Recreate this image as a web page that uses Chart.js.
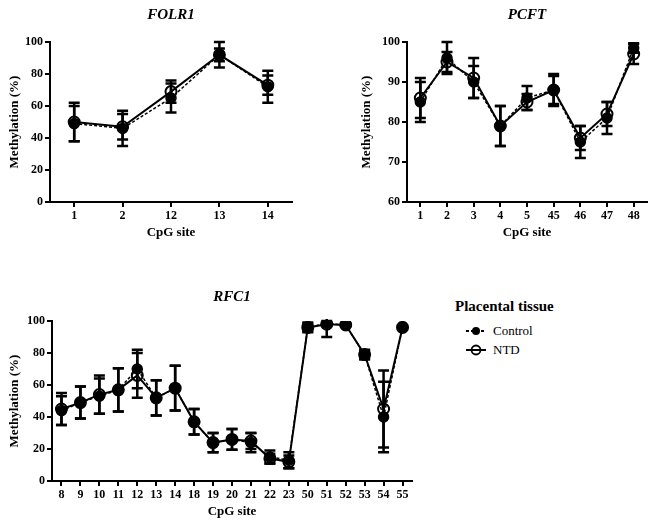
<!DOCTYPE html>
<html lang="en">
<head>
    <meta charset="UTF-8">
    <title>Placental tissue methylation</title>
    <script src="https://cdn.jsdelivr.net/npm/chart.js"></script>
    <style>
        body { margin: 0; background: #fff; width: 658px; height: 528px; position: relative; overflow: hidden;
               font-family: 'Liberation Serif', 'Times New Roman', serif; color: #000; }
        canvas { position: absolute; }
        .abs { position: absolute; white-space: nowrap; line-height: 1; }
        .lt { font-weight: bold; font-size: 15px; }
        .li { font-size: 13px; }
    </style>
</head>
<body>
    <canvas id="folr" width="300" height="250" style="left:0;top:0"></canvas>
    <canvas id="pcft" width="308" height="250" style="left:350px;top:0"></canvas>
    <canvas id="rfc" width="420" height="266" style="left:0;top:262px"></canvas>

    <div class="abs lt" style="left:455px;top:299px">Placental tissue</div>
    <svg class="abs" style="left:465px;top:325px" width="22" height="12">
        <line x1="1" y1="6" x2="21" y2="6" stroke="#000" stroke-width="2" stroke-dasharray="3,2"/>
        <circle cx="11" cy="6" r="4" fill="#000"/>
    </svg>
    <div class="abs li" style="left:493px;top:324px">Control</div>
    <svg class="abs" style="left:465px;top:344px" width="22" height="12">
        <line x1="1" y1="6" x2="21" y2="6" stroke="#000" stroke-width="2"/>
        <circle cx="11" cy="6" r="4.5" fill="none" stroke="#000" stroke-width="1.8"/>
    </svg>
    <div class="abs li" style="left:493px;top:343px">NTD</div>

    <script>
        // FOLR1
        const folrSites = ['1', '2', '12', '13', '14'];
        const folrControl = [49, 46, 65, 92, 72];
        const folrControlErr = [11, 11, 9, 8, 10];
        const folrNTD = [50, 47, 69, 92, 73];
        const folrNTDErr = [12, 8, 7, 4, 6];

        // PCFT
        const pcftSites = ['1', '2', '3', '4', '5', '45', '46', '47', '48'];
        const pcftControl = [85, 96, 90, 79, 86, 88, 75, 81, 98.5];
        const pcftControlErr = [5, 4, 4, 5, 3, 4, 4, 4, 1.2];
        const pcftNTD = [86, 95, 91, 79, 85, 88, 76, 82, 97];
        const pcftNTDErr = [5, 2.5, 5, 5, 2, 3.5, 3, 3, 2.5];

        // RFC1
        const rfcSites = ['8', '9', '10', '11', '12', '13', '14', '18', '19', '20', '21', '22', '23', '50', '51', '52', '53', '54', '55'];
        const rfcControl = [44, 49, 53, 57, 70, 52, 58, 37, 24, 26, 24, 15, 13, 96, 98.5, 97.5, 79, 40, 96];
        const rfcControlErr = [9, 10, 11, 13.5, 12, 11, 14, 8, 6, 6.5, 6, 4, 5, 3, 1.5, 1, 3, 22, 1];
        const rfcNTD = [45, 49, 54, 57, 66, 52, 58, 37, 24, 26, 25, 14, 12, 96, 98, 97.5, 79, 45, 96];
        const rfcNTDErr = [10, 10, 12, 13.5, 14, 11, 14, 8, 6, 6.5, 5, 3, 4, 2.5, 8, 1, 2.5, 24, 1];

        Chart.defaults.font.family = "'Liberation Serif', 'Times New Roman', serif";
        Chart.defaults.color = '#000';

        // error bars with caps, from the y scale
        const errorBars = {
            id: 'errorBars',
            beforeDatasetsDraw(chart) {
                const { ctx, chartArea } = chart;
                const y = chart.scales.y;
                ctx.save();
                ctx.beginPath();
                ctx.rect(chartArea.left - 10, chartArea.top - 2, chartArea.width + 20, chartArea.height + 2);
                ctx.clip();
                ctx.strokeStyle = '#000';
                ctx.lineWidth = 2.5;
                chart.data.datasets.forEach((ds, i) => {
                    chart.getDatasetMeta(i).data.forEach((pt, j) => {
                        const v = ds.data[j], e = ds.errors[j];
                        const top = y.getPixelForValue(v + e);
                        const bot = y.getPixelForValue(v - e);
                        ctx.beginPath();
                        ctx.moveTo(pt.x, top); ctx.lineTo(pt.x, bot);
                        ctx.moveTo(pt.x - 5.5, top); ctx.lineTo(pt.x + 5.5, top);
                        ctx.moveTo(pt.x - 5.5, bot); ctx.lineTo(pt.x + 5.5, bot);
                        ctx.stroke();
                    });
                });
                ctx.restore();
            }
        };

        const panelTitle = {
            id: 'panelTitle',
            afterDraw(chart, args, opts) {
                const { ctx, chartArea } = chart;
                ctx.save();
                ctx.font = "italic bold 15px 'Liberation Serif'";
                ctx.fillStyle = '#000';
                ctx.textAlign = 'center';
                ctx.textBaseline = 'middle';
                ctx.fillText(opts.text, (chartArea.left + chartArea.right) / 2, opts.y);
                ctx.restore();
            }
        };

        function makePanel(id, title, titleY, labels, ctrl, ctrlErr, ntd, ntdErr, yMin, yMax, step, geo) {
            new Chart(document.getElementById(id), {
                type: 'line',
                data: {
                    labels: labels,
                    datasets: [{
                        label: 'NTD',
                        data: ntd,
                        errors: ntdErr,
                        borderColor: '#000',
                        borderWidth: 2,
                        pointRadius: 5.5,
                        pointBorderWidth: 2,
                        pointBackgroundColor: 'rgba(0,0,0,0)',
                        pointBorderColor: '#000',
                        order: 0
                    }, {
                        label: 'Control',
                        data: ctrl,
                        errors: ctrlErr,
                        borderColor: '#000',
                        borderWidth: 1.5,
                        borderDash: [3, 2],
                        pointRadius: 5,
                        pointBackgroundColor: '#000',
                        pointBorderColor: '#000',
                        order: 1
                    }]
                },
                options: {
                    responsive: false,
                    animation: false,
                    devicePixelRatio: 1,
                    layout: { padding: geo.padding },
                    plugins: {
                        legend: { display: false },
                        tooltip: { enabled: false },
                        panelTitle: { text: title, y: titleY }
                    },
                    scales: {
                        x: {
                            offset: true,
                            grid: { offset: false, drawOnChartArea: false, tickLength: 5, color: '#000', lineWidth: 2 },
                            border: { color: '#000', width: 2 },
                            ticks: { autoSkip: false, maxRotation: 0, padding: 2, font: { size: 12, weight: 'bold' } },
                            title: { display: true, text: 'CpG site', font: { size: 13, weight: 'bold' }, padding: { top: 0, bottom: geo.xTitlePad } },
                            afterFit(s) { s.height = geo.xHeight; }
                        },
                        y: {
                            min: yMin, max: yMax,
                            grid: { drawOnChartArea: false, tickLength: 5, color: '#000', lineWidth: 2 },
                            border: { color: '#000', width: 2 },
                            ticks: { stepSize: step, padding: 2, font: { size: 12, weight: 'bold' } },
                            title: { display: true, text: 'Methylation (%)', font: { size: 13, weight: 'bold' }, padding: { top: geo.yTitlePad, bottom: 0 } },
                            afterFit(s) { s.width = geo.yWidth; }
                        }
                    }
                },
                plugins: [errorBars, panelTitle]
            });
        }

        makePanel('folr', 'FOLR1', 15, folrSites, folrControl, folrControlErr, folrNTD, folrNTDErr, 0, 100, 20,
            { padding: { left: 0, right: 8, top: 42, bottom: 0 }, xHeight: 48, yWidth: 50, xTitlePad: 10, yTitlePad: 7 });
        makePanel('pcft', 'PCFT', 15, pcftSites, pcftControl, pcftControlErr, pcftNTD, pcftNTDErr, 60, 100, 10,
            { padding: { left: 0, right: 11, top: 42, bottom: 0 }, xHeight: 48, yWidth: 57, xTitlePad: 10, yTitlePad: 9 });
        makePanel('rfc', 'RFC1', 35, rfcSites, rfcControl, rfcControlErr, rfcNTD, rfcNTDErr, 0, 100, 20,
            { padding: { left: 0, right: 8, top: 59, bottom: 0 }, xHeight: 47, yWidth: 52, xTitlePad: 8.5, yTitlePad: 7 });
    </script>
</body>
</html>
